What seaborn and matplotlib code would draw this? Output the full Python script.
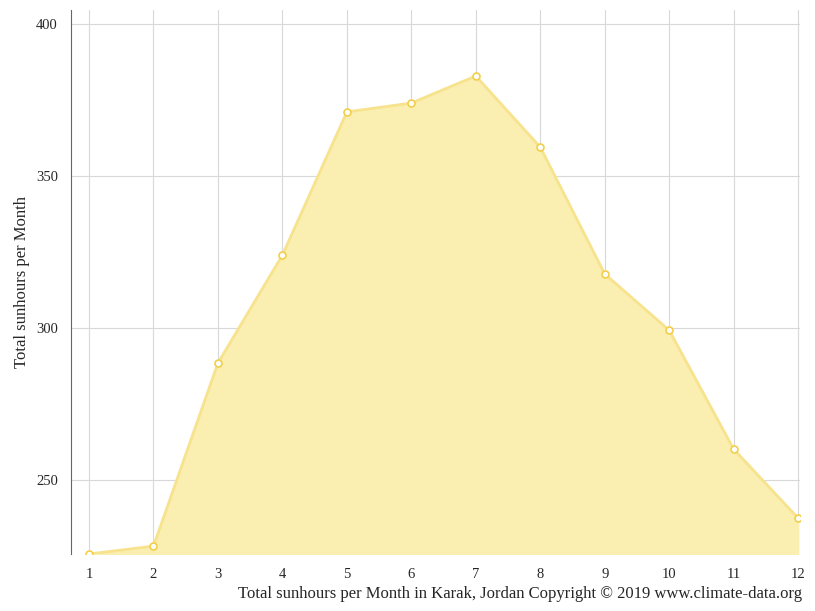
import matplotlib
matplotlib.use("Agg")
import matplotlib.pyplot as plt
import seaborn as sns
import pandas as pd

months = list(range(1, 13))
sunhours = [225.7, 228.3, 288.5, 324.0, 371.1, 374.0, 382.9, 359.5, 317.8, 299.3, 260.2, 237.5]
yticks = [250, 300, 350, 400]

sns.set_style("white")
plt.rcParams['font.family'] = ['Liberation Serif', 'DejaVu Serif']

df = pd.DataFrame({"month": months, "sun": sunhours})
fig = plt.figure(figsize=(8.15, 6.11), dpi=100)
ax = fig.add_axes([0.0871, 0.0933, 0.8945, 0.8903])
ymin = 225.7
ax.fill_between(df["month"], df["sun"], ymin, color="#faeeb0", zorder=2)
sns.lineplot(data=df, x="month", y="sun", ax=ax, color="#f7e38d", linewidth=2,
             marker="o", markersize=5, markerfacecolor="white",
             markeredgecolor="#f2cf4a", markeredgewidth=1.2, zorder=3)
ax.set_xlim(0.72, 12.03)
ax.set_ylim(ymin, 404.6)
ax.set_xticks(months)
ax.set_yticks(yticks)
ax.grid(True, color="#d8d8d8", linewidth=0.8, zorder=0)
ax.set_axisbelow(True)
for s in ["top", "right", "bottom"]:
    ax.spines[s].set_visible(False)
ax.spines["left"].set_color("#666666")
ax.tick_params(axis="y", length=6, color="#666666", labelsize=10.5)
ax.tick_params(axis="x", length=0, labelsize=10.5, pad=10)
ax.set_ylabel("Total sunhours per Month", fontsize=12)
ax.set_xlabel("")
fig.text(0.984, 0.015, "Total sunhours per Month in Karak, Jordan Copyright © 2019 www.climate-data.org",
         ha="right", va="bottom", fontsize=12)
fig.savefig("out.png", dpi=100)
